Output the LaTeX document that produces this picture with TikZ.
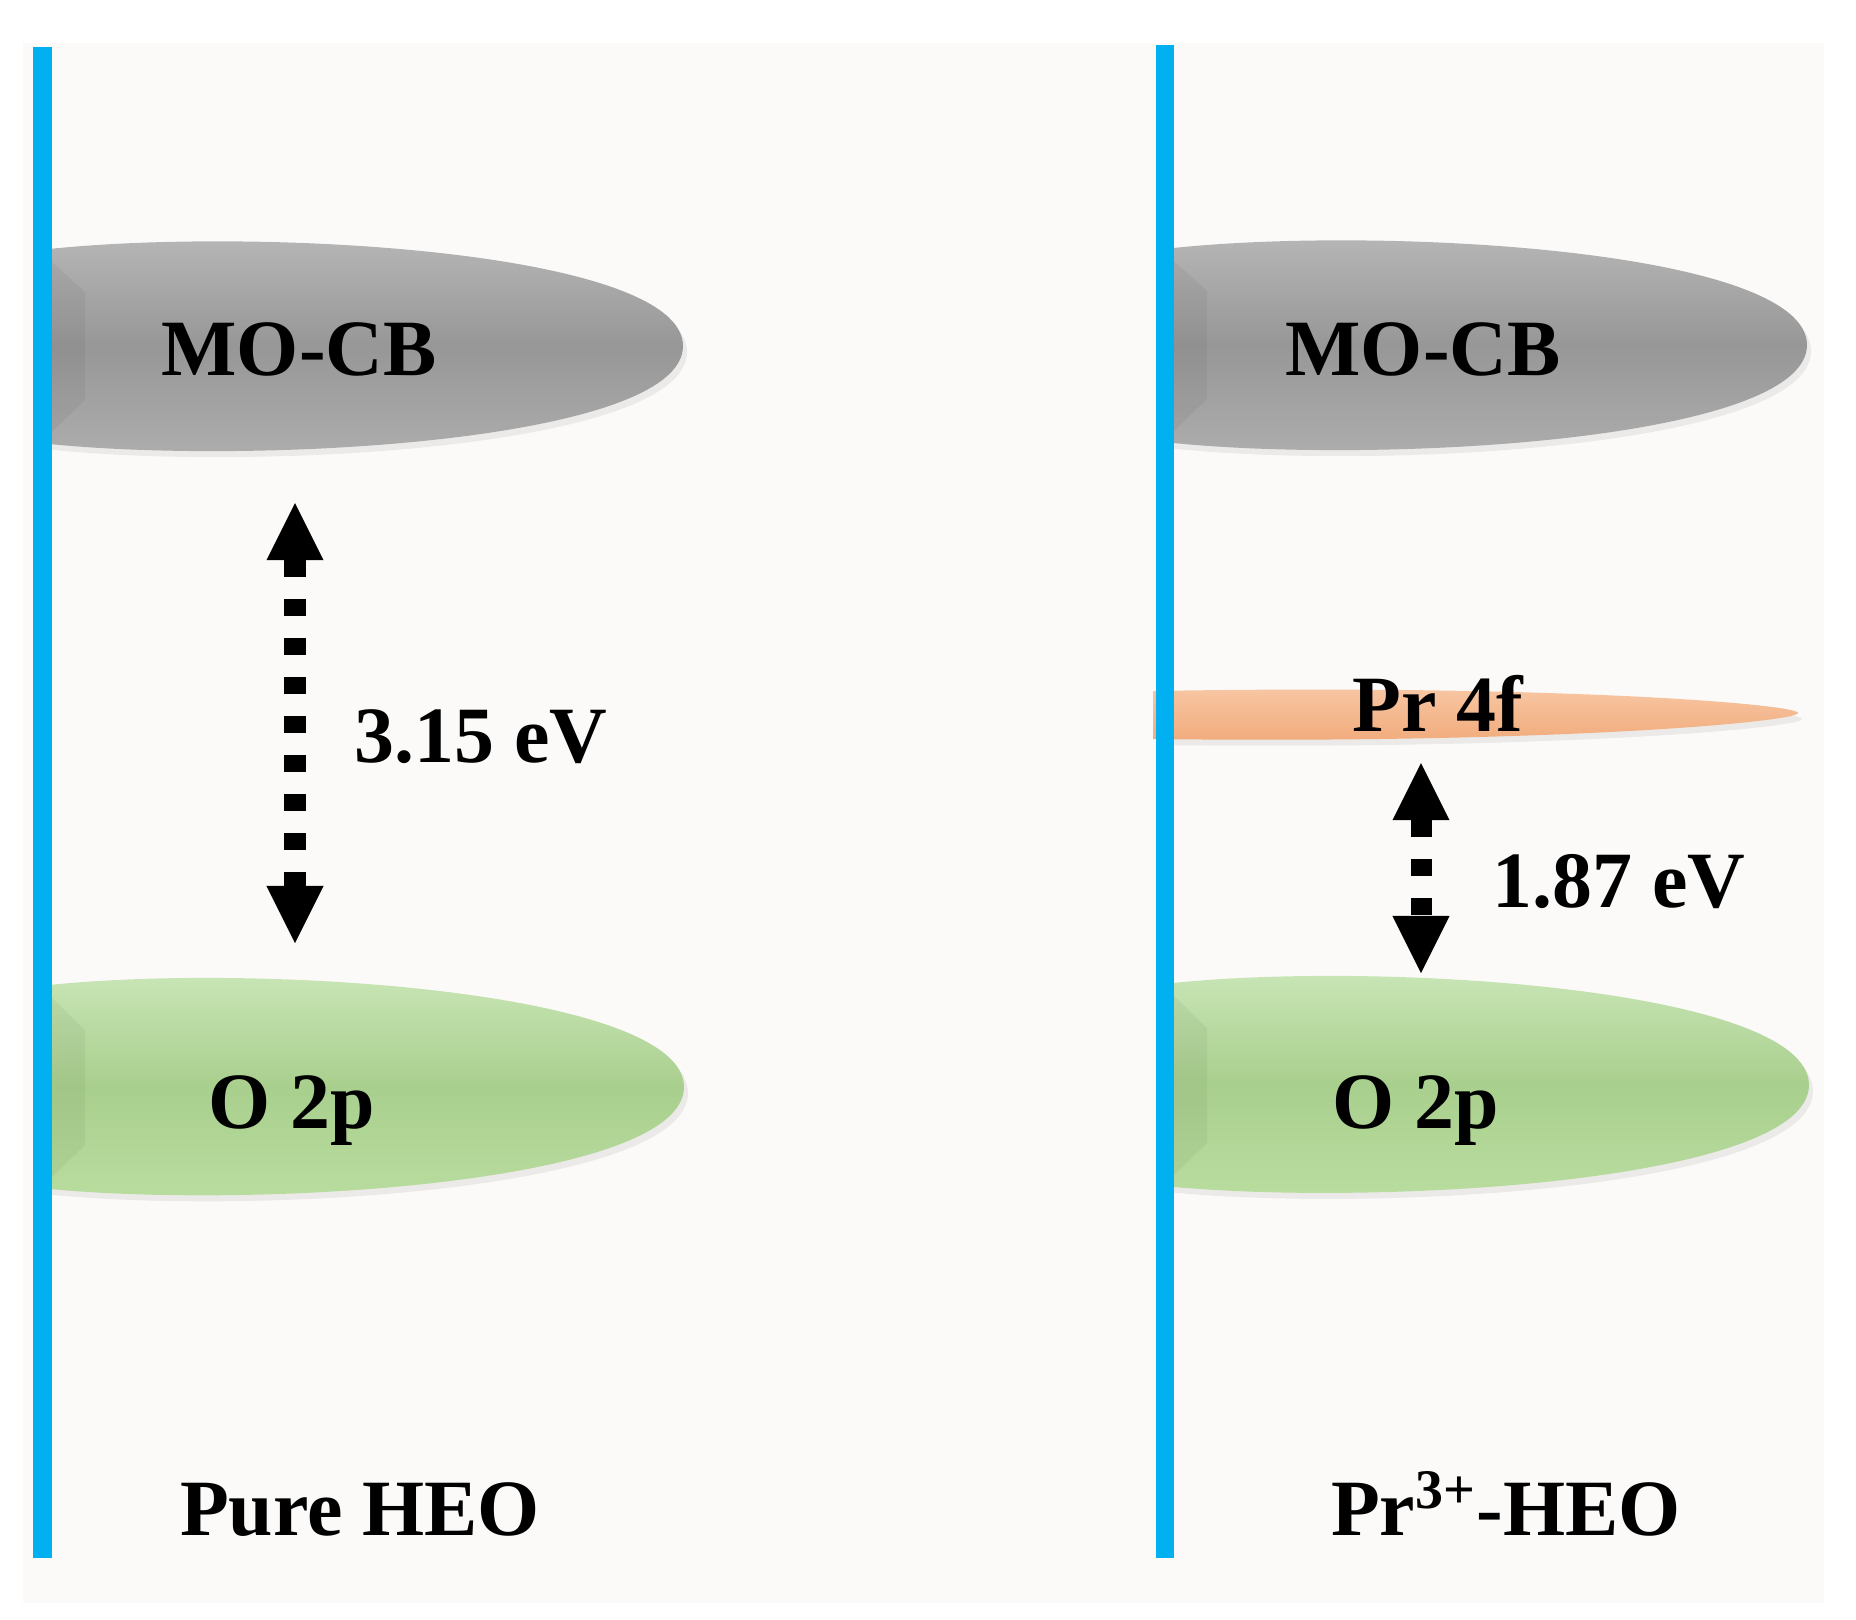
\documentclass[tikz,border=0pt]{standalone}
\usepackage{fontspec}
\setmainfont{Liberation Serif}
\usetikzlibrary{arrows.meta,shadows}

\definecolor{heobar}{RGB}{0,176,240}
\definecolor{heobg}{RGB}{251,250,249}
\definecolor{cbtop}{RGB}{186,185,185}
\definecolor{cbmid}{RGB}{152,151,151}
\definecolor{cbbot}{RGB}{176,175,175}
\definecolor{vbtop}{RGB}{204,232,186}
\definecolor{vbmid}{RGB}{169,207,142}
\definecolor{vbbot}{RGB}{186,222,160}
\definecolor{prtop}{RGB}{248,200,166}
\definecolor{prbot}{RGB}{241,170,122}

\tikzset{
  band/.style={drop shadow={shadow xshift=0.4mm,shadow yshift=-0.6mm,opacity=0.13}},
  cbband/.style={band,top color=cbtop,bottom color=cbbot,middle color=cbmid},
  vbband/.style={band,top color=vbtop,bottom color=vbbot,middle color=vbmid},
  fband/.style={band,top color=prtop,bottom color=prbot},
  bevel/.style={fill=black,opacity=0.045},
  lbl/.style={font=\fontsize{22.7}{27}\selectfont\bfseries,anchor=base,inner sep=0pt},
  gaparrow/.style={line width=2.1mm,dash pattern=on 1.7mm off 2.2mm,
    {Triangle[width=5.7mm,length=5.7mm,line width=0pt]}-{Triangle[width=5.7mm,length=5.7mm,line width=0pt]}}
}

\begin{document}
\begin{tikzpicture}[x=0.01cm,y=-0.01cm]
\useasboundingbox (0,0) rectangle (1856,1620);
\fill[white] (0,0) rectangle (1856,1620);
\fill[heobg] (23,43) rectangle (1824,1603);

\path[cbband] (40,250) .. controls (250,226) and (683,250) .. (683,346) .. controls (683,442) and (250,466) .. (40,443) -- cycle;
\path[vbband] (40,986) .. controls (250,962) and (684,990) .. (684,1087) .. controls (684,1184) and (250,1210) .. (40,1188) -- cycle;
\path[cbband] (1164,249) .. controls (1374,225) and (1807,249) .. (1807,345) .. controls (1807,441) and (1374,465) .. (1164,442) -- cycle;
\path[vbband] (1164,984) .. controls (1374,960) and (1809,988) .. (1809,1085) .. controls (1809,1182) and (1374,1207) .. (1164,1186) -- cycle;
\path[fband] (1153,691) .. controls (1550,684) and (1798,704) .. (1798,713) .. controls (1798,722) and (1550,744) .. (1153,739) -- cycle;

\fill[bevel] (52,262) -- (85,292) -- (85,400) -- (52,432) -- cycle;
\fill[bevel] (52,998) -- (85,1030) -- (85,1145) -- (52,1177) -- cycle;
\fill[bevel] (1174,261) -- (1207,291) -- (1207,399) -- (1174,431) -- cycle;
\fill[bevel] (1174,996) -- (1207,1028) -- (1207,1143) -- (1174,1175) -- cycle;

\fill[heobar] (33,47) rectangle (52,1558);
\fill[heobar] (1156,45) rectangle (1174,1558);

\node[lbl] (cbL) at (299,375) {MO-CB};
\node[lbl] (cbR) at (1423,375) {MO-CB};
\node[lbl] (vbL) at (292,1128) {O 2p};
\node[lbl] (vbR) at (1416,1128) {O 2p};
\node[lbl] (prf) at (1438,731) {Pr 4f};
\node[lbl] (gapL) at (481,762) {3.15 eV};
\node[lbl] (gapR) at (1619,907) {1.87 eV};
\node[lbl] (capL) at (360,1535) {Pure HEO};
\node[lbl] (capR) at (1506,1535) {Pr\textsuperscript{3+}-HEO};

\coordinate (gapLtop) at (295,503);
\coordinate (gapLbot) at (295,943);
\coordinate (gapRtop) at (1421,763);
\coordinate (gapRbot) at (1421,973);
\draw[gaparrow] (gapLtop) -- (gapLbot);
\draw[gaparrow] (gapRtop) -- (gapRbot);
\end{tikzpicture}
\end{document}
